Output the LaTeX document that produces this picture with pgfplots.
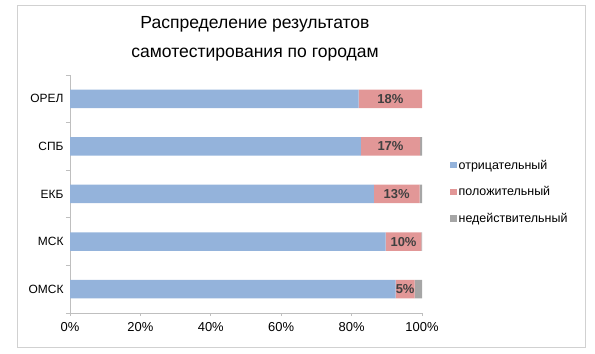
\documentclass[border=0pt]{standalone}
\usepackage{pgfplots}
\pgfplotsset{compat=1.18}
\usepackage{pgfplotstable}
\usepackage{fontspec}
\setmainfont{Liberation Sans}
\definecolor{cblue}{HTML}{94B3DB}
\definecolor{cpink}{HTML}{E29797}
\definecolor{cgray}{HTML}{A6A6A6}
\definecolor{axgray}{HTML}{BFBFBF}
\definecolor{labgray}{HTML}{404040}
\pgfplotstableread{
y neg pos inv lab
0 92.5 5.4 2.1 5
1 89.7 10.1 0.2 10
2 86.3 13.0 0.7 13
3 82.6 16.9 0.5 17
4 82.0 18.0 0.0 18
}\data
\pgfplotsset{
  myframe/.style={
    at={(70bp,41bp)}, anchor=south west,
    width=352bp, height=238bp, scale only axis,
    xmin=0, xmax=100,
    ymin=-0.5, ymax=4.5,
  }
}
\begin{document}
\begin{tikzpicture}
\useasboundingbox (0bp,0bp) rectangle (595bp,354bp);
\draw[color=black!18, line width=1bp] (17bp,6bp) rectangle (585bp,348bp);
\node[align=center, font=\fontsize{17.6}{29}\selectfont] at (255bp,315bp) {Распределение результатов\\самотестирования по городам};
\begin{axis}[
  myframe,
  xbar stacked,
  bar width=18.5bp,
  ytick={0,1,2,3,4},
  yticklabels={ОМСК,МСК,ЕКБ,СПБ,ОРЕЛ},
  minor ytick={-0.5,0.5,1.5,2.5,3.5,4.5},
  xtick={0,20,40,60,80,100},
  xticklabels={0\%,20\%,40\%,60\%,80\%,100\%},
  axis x line*=bottom, axis y line*=left,
  axis line style={axgray, line width=0.8bp},
  tick align=outside,
  major tick length=3bp,
  minor tick length=4bp,
  major y tick style={draw=none},
  minor y tick style={axgray, line width=0.8bp},
  major x tick style={axgray, line width=0.8bp},
  x tick label style={font=\fontsize{13}{13}\selectfont, yshift=-3bp},
  y tick label style={font=\fontsize{12}{12}\selectfont},
  legend style={at={(1.071,0.508)}, anchor=west, draw=none, fill=none,
    font=\fontsize{12.5}{12.5}\selectfont, row sep=12bp,
    legend cell align=left},
  legend image code/.code={\fill[#1] (0bp,-3bp) rectangle (6.5bp,3.5bp);},
]
\addplot[fill=cblue, draw=none] table[x=neg, y=y] {\data};
\addplot[fill=cpink, draw=none] table[x=pos, y=y] {\data};
\addplot[fill=cgray, draw=none] table[x=inv, y=y] {\data};
\legend{отрицательный, положительный, недействительный}
\end{axis}
\begin{axis}[myframe, hide axis]
\addplot[draw=none, mark=none,
  nodes near coords={\pgfplotspointmeta\%},
  point meta=explicit symbolic,
  every node near coord/.append style={anchor=center,
    font=\fontsize{13}{13}\selectfont\bfseries, text=labgray}]
  table[x expr={\thisrow{neg}+\thisrow{pos}/2}, y=y, meta=lab] {\data};
\end{axis}
\end{tikzpicture}
\end{document}
